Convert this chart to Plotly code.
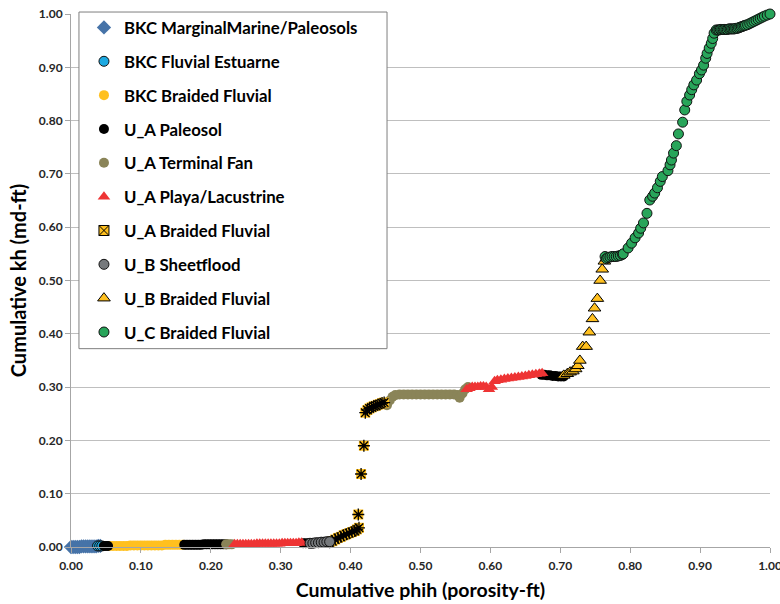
import plotly.graph_objects as go

# ---- cumulative phih / cumulative kh by facies ----
bkc_mm_x = [0.000, 0.003, 0.006, 0.009, 0.012, 0.015, 0.018, 0.021, 0.024, 0.027, 0.030, 0.033, 0.036, 0.039, 0.042]
bkc_mm_y = [0.000, 0.000, 0.000, 0.000, 0.000, 0.001, 0.001, 0.001, 0.001, 0.001, 0.001, 0.001, 0.001, 0.002, 0.002]

bkc_fe_x = [0.038, 0.041, 0.044]
bkc_fe_y = [0.002, 0.002, 0.002]

bkc_bf_x = [0.055, 0.060, 0.065, 0.070, 0.075, 0.080, 0.085, 0.090, 0.095, 0.100, 0.105,
            0.110, 0.115, 0.120, 0.125, 0.130, 0.135, 0.140, 0.145, 0.150, 0.155, 0.160]
bkc_bf_y = [0.002, 0.002, 0.002, 0.002, 0.002, 0.002, 0.003, 0.003, 0.003, 0.003, 0.003,
            0.003, 0.003, 0.003, 0.003, 0.003, 0.004, 0.004, 0.004, 0.004, 0.004, 0.004]

ua_pal_x = [0.047, 0.050, 0.053,
            0.162, 0.166, 0.170, 0.174, 0.178, 0.182, 0.186, 0.190, 0.194, 0.198, 0.202, 0.206,
            0.210, 0.214, 0.218, 0.222,
            0.332, 0.336, 0.340,
            0.673, 0.677, 0.681, 0.685, 0.689, 0.693, 0.697, 0.701, 0.705]
ua_pal_y = [0.002, 0.002, 0.002,
            0.004, 0.004, 0.004, 0.004, 0.004, 0.004, 0.004, 0.005, 0.005, 0.005, 0.005, 0.005,
            0.005, 0.005, 0.005, 0.005,
            0.007, 0.007, 0.007,
            0.323, 0.323, 0.322, 0.322, 0.321, 0.321, 0.320, 0.320, 0.320]

ua_tf_x = [0.222, 0.226, 0.230,
           0.452, 0.456, 0.460, 0.464, 0.470, 0.476, 0.482, 0.488, 0.494, 0.500, 0.506, 0.512,
           0.518, 0.524, 0.530, 0.536, 0.542, 0.548, 0.553, 0.556, 0.560, 0.564, 0.568]
ua_tf_y = [0.005, 0.005, 0.005,
           0.266, 0.275, 0.282, 0.285, 0.286, 0.286, 0.286, 0.286, 0.286, 0.286, 0.286, 0.286,
           0.286, 0.286, 0.286, 0.286, 0.286, 0.286, 0.285, 0.280, 0.288, 0.296, 0.300]

ua_pl_x = [0.234, 0.238, 0.242, 0.246, 0.250, 0.254, 0.258, 0.262, 0.266, 0.270, 0.274, 0.278, 0.282,
           0.286, 0.290, 0.294, 0.298, 0.302, 0.306, 0.310, 0.314, 0.318, 0.322, 0.326, 0.330,
           0.566, 0.570, 0.574, 0.578, 0.582, 0.586, 0.590, 0.594, 0.598, 0.602, 0.606, 0.610, 0.615,
           0.620, 0.625, 0.630, 0.635, 0.640, 0.645, 0.650, 0.655, 0.660, 0.665, 0.670, 0.674]
ua_pl_y = [0.005, 0.005, 0.005, 0.005, 0.005, 0.005, 0.005, 0.005, 0.006, 0.006, 0.006, 0.006, 0.006,
           0.006, 0.006, 0.006, 0.006, 0.007, 0.007, 0.007, 0.007, 0.007, 0.007, 0.008, 0.008,
           0.296, 0.298, 0.300, 0.300, 0.300, 0.301, 0.301, 0.300, 0.296, 0.300, 0.311, 0.313, 0.314,
           0.315, 0.316, 0.317, 0.318, 0.319, 0.320, 0.321, 0.322, 0.323, 0.324, 0.325, 0.326]

ua_bf_x = [0.370, 0.374, 0.378, 0.382, 0.386, 0.390, 0.394, 0.398, 0.402, 0.406, 0.409, 0.412,
           0.411, 0.415, 0.419,
           0.421, 0.424, 0.427, 0.430, 0.433, 0.436, 0.439, 0.442, 0.445, 0.448]
ua_bf_y = [0.009, 0.011, 0.014, 0.017, 0.019, 0.022, 0.024, 0.026, 0.028, 0.030, 0.033, 0.036,
           0.061, 0.137, 0.190,
           0.252, 0.257, 0.260, 0.262, 0.264, 0.265, 0.267, 0.268, 0.270, 0.271]

ub_sf_x = [0.342, 0.346, 0.350, 0.354, 0.358, 0.362, 0.366, 0.370]
ub_sf_y = [0.007, 0.007, 0.008, 0.008, 0.009, 0.009, 0.010, 0.010]

ub_bf_x = [0.705, 0.710, 0.714, 0.718, 0.722, 0.725, 0.728, 0.732, 0.737, 0.7415,
           0.746, 0.749, 0.753, 0.757, 0.760, 0.763, 0.766]
ub_bf_y = [0.322, 0.325, 0.328, 0.330, 0.334, 0.340, 0.350, 0.376, 0.376, 0.403,
           0.428, 0.448, 0.466, 0.500, 0.521, 0.536, 0.542]

uc_bf_x = [0.764, 0.766, 0.768, 0.771, 0.774, 0.777, 0.780, 0.783, 0.786, 0.789, 0.790,
           0.797, 0.802, 0.807, 0.812, 0.815, 0.819, 0.824, 0.828, 0.832, 0.835, 0.839,
           0.843, 0.846, 0.854, 0.857, 0.859, 0.862, 0.866, 0.869, 0.875, 0.878, 0.881,
           0.885, 0.888, 0.891, 0.895, 0.899, 0.902, 0.905, 0.908, 0.910, 0.913, 0.916,
           0.918, 0.920, 0.923, 0.925, 0.927, 0.929, 0.931, 0.933, 0.935, 0.937, 0.939,
           0.941, 0.943, 0.945, 0.947, 0.949, 0.951, 0.953, 0.955, 0.957, 0.959, 0.961,
           0.963, 0.965, 0.968, 0.971, 0.974, 0.977, 0.980, 0.983, 0.986, 0.989, 0.992,
           0.996, 1.000]
uc_bf_y = [0.545, 0.541, 0.543, 0.544, 0.545, 0.545, 0.545, 0.546, 0.547, 0.549, 0.550,
           0.561, 0.570, 0.580, 0.589, 0.598, 0.608, 0.626, 0.651, 0.658, 0.664, 0.674,
           0.686, 0.695, 0.706, 0.717, 0.726, 0.739, 0.753, 0.775, 0.797, 0.820, 0.836,
           0.848, 0.858, 0.867, 0.876, 0.888, 0.895, 0.904, 0.917, 0.926, 0.936, 0.945,
           0.954, 0.964, 0.970, 0.970, 0.970, 0.971, 0.971, 0.971, 0.971, 0.971, 0.971,
           0.972, 0.972, 0.972, 0.972, 0.972, 0.973, 0.973, 0.974, 0.975, 0.976, 0.977,
           0.978, 0.979, 0.980, 0.982, 0.984, 0.986, 0.988, 0.990, 0.992, 0.994, 0.996,
           0.998, 1.000]

x_ticks = [0.0, 0.1, 0.2, 0.3, 0.4, 0.5, 0.6, 0.7, 0.8, 0.9, 1.0]
y_ticks = [0.0, 0.1, 0.2, 0.3, 0.4, 0.5, 0.6, 0.7, 0.8, 0.9, 1.0]

FONT = "Lato"
SZ = 10


def pts(name, x, y, symbol, color, line_color=None, line_width=0, size=SZ, rank=0,
        showlegend=True):
    return go.Scatter(
        x=x, y=y, mode="markers", name=name, legendgroup=name, legendrank=rank,
        showlegend=showlegend, cliponaxis=False,
        marker=dict(symbol=symbol, size=size, color=color,
                    line=dict(color=line_color or color, width=line_width)),
        hoverinfo="x+y+name",
    )


fig = go.Figure()
fig.add_trace(pts("BKC MarginalMarine/Paleosols", bkc_mm_x, bkc_mm_y, "diamond", "#4673A8", size=11, rank=1))
fig.add_trace(pts("BKC Fluvial Estuarne", bkc_fe_x, bkc_fe_y, "circle", "#1DA9E1", "#111111", 1, rank=2))
fig.add_trace(pts("BKC Braided Fluvial", bkc_bf_x, bkc_bf_y, "circle", "#FFC01F", rank=3))
fig.add_trace(pts("U_A Paleosol", ua_pal_x, ua_pal_y, "circle", "#000000", rank=4))
fig.add_trace(pts("U_A Terminal Fan", ua_tf_x, ua_tf_y, "circle", "#8A8458", rank=5))
fig.add_trace(pts("U_A Playa/Lacustrine", ua_pl_x, ua_pl_y, "triangle-up", "#EE3434", size=11, rank=6))
# U_A Braided Fluvial: orange square with a black asterisk on top
fig.add_trace(pts("U_A Braided Fluvial", ua_bf_x, ua_bf_y, "square", "#FFC01F", size=10,
                  rank=7, showlegend=False))
fig.add_trace(pts("U_A Braided Fluvial", ua_bf_x, ua_bf_y, "asterisk-open", "#000000", "#000000", 1.3,
                  size=10, rank=7, showlegend=False))
fig.add_trace(pts("U_A Braided Fluvial", [None], [None], "square-x", "#FFC01F", "#000000", 1,
                  size=10, rank=7))
fig.add_trace(pts("U_B Sheetflood", ub_sf_x, ub_sf_y, "circle", "#76797C", "#111111", 1, rank=8))
fig.add_trace(pts("U_B Braided Fluvial", ub_bf_x, ub_bf_y, "triangle-up", "#FFC01F", "#000000", 1,
                  size=11, rank=9))
fig.add_trace(pts("U_C Braided Fluvial", uc_bf_x, uc_bf_y, "circle", "#28A55A", "#111111", 1, rank=10))

axis_common = dict(
    range=[0, 1], showline=True, linecolor="#A6A6A6", linewidth=1,
    ticks="outside", ticklen=5, tickcolor="#A6A6A6", tickwidth=1,
    tickformat=".2f", zeroline=False, ticklabeloverflow="allow", automargin=False,
    tickfont=dict(family=FONT, size=12, color="#262626", weight="bold"),
)

fig.update_xaxes(**axis_common, tickvals=x_ticks, showgrid=False, ticklabelstandoff=3,
                 title=dict(text="Cumulative phih (porosity-ft)", standoff=10,
                            font=dict(family=FONT, size=19.5, color="#000000", weight="bold")))
fig.update_yaxes(**axis_common, tickvals=y_ticks, showgrid=True, gridcolor="#BFBFBF", gridwidth=1,
                 title=dict(text="Cumulative kh (md-ft)", standoff=6,
                            font=dict(family=FONT, size=20, color="#000000", weight="bold")))

# legend frame
fig.add_shape(type="rect", xref="paper", yref="paper",
              x0=0.0114, x1=0.4521, y0=0.3721, y1=1.0037,
              line=dict(color="#7F7F7F", width=1), fillcolor="#FFFFFF", layer="above")

fig.update_layout(
    width=780, height=604,
    margin=dict(l=71, r=10, t=14, b=57, autoexpand=False),
    plot_bgcolor="#FFFFFF", paper_bgcolor="#FFFFFF",
    font=dict(family=FONT, color="#000000"),
    showlegend=True,
    legend=dict(
        x=0.0114, y=0.9834, xanchor="left", yanchor="top", yref="container",
        bgcolor="rgba(0,0,0,0)", borderwidth=0, maxheight=600,
        font=dict(family=FONT, size=16.8, color="#000000", weight="bold"),
        tracegroupgap=9, indentation=5, itemsizing="trace",
    ),
)

fig.write_html("out.html")
